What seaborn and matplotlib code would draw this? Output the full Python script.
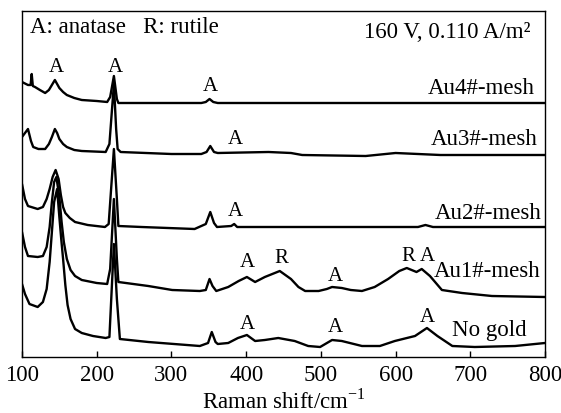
import pandas as pd
import matplotlib
matplotlib.use("Agg")
import matplotlib.pyplot as plt
import seaborn as sns

# Raman spectra (wavenumber in cm-1, stacked intensity in a.u.)
au4_x = [100, 108, 111.5, 113, 114.5, 117.4, 124, 131, 136, 140, 144, 147, 150, 155, 160, 170, 180,
         200, 214, 218, 223, 227, 229, 300, 340, 346, 351, 356, 362, 800]
au4_y = [275, 272, 272, 283, 271, 270, 267, 264, 267, 272, 277, 273, 269, 265, 262, 259, 257,
         256, 255, 260, 281, 258, 254, 254, 254, 255, 258, 255, 254, 254]

au3_x = [100, 104, 108, 112, 115, 122, 131, 136, 140, 144, 147, 150, 155, 160, 170, 180, 212,
         217, 223, 226, 228, 232, 300, 340, 347, 352, 357, 362, 430, 460, 475, 560, 600, 630, 660, 800]
au3_y = [220, 224, 228, 216, 210, 208, 208, 213, 220, 228, 224, 218, 213, 210, 207, 206, 205,
         213, 273, 228, 208, 205, 203, 203, 205, 211, 205, 204, 205, 204, 202, 201, 204, 203, 202, 202]

au2_x = [100, 104, 108, 121, 128, 133, 137, 141, 145, 149, 152, 155, 158, 164, 171, 188, 211,
         216, 223, 227, 229, 260, 331, 346, 352, 357, 361, 380, 384, 388, 630, 640, 650, 800]
au2_y = [173, 158, 151, 148, 150, 158, 168, 180, 187, 178, 162, 150, 144, 139, 135, 132, 130,
         133, 208, 158, 131, 130, 128, 133, 145, 134, 130, 131, 133, 130, 130, 132, 130, 130]

au1_x = [100, 104, 108, 121, 128, 133, 137, 140, 143, 146, 150, 153, 156, 160, 165, 171, 180,
         200, 214, 218, 223, 227, 229, 269, 301, 338, 346, 351, 355, 360, 376, 390, 401, 412,
         425, 445, 460, 470, 479, 497, 508, 515, 528, 540, 555, 572, 590, 605, 615, 628, 635,
         646, 662, 689, 729, 800]
au1_y = [125, 110, 101, 100, 101, 110, 130, 155, 175, 180, 160, 135, 115, 98, 87, 81, 77,
         74, 73, 88, 158, 98, 75, 71, 67, 66, 67, 78, 71, 66, 70, 76, 80, 75,
         80, 86, 78, 70, 66, 66, 68, 70, 69, 67, 66, 70, 78, 86, 89, 85, 88,
         81, 67, 64, 61, 60]

nogold_x = [100, 104, 110, 121, 128, 133, 137, 140, 143, 147, 150, 152.5, 155, 158, 161, 165,
            171, 180, 195, 212, 217, 223, 227, 231, 269, 338, 349, 354, 359, 362, 376, 389, 401,
            412, 425, 443, 465, 483, 499, 515, 528, 555, 579, 599, 626, 642, 656, 676, 706, 760, 800]
nogold_y = [73, 63, 53, 50, 55, 68, 95, 125, 155, 168, 140, 118, 98, 72, 52, 38,
            28, 24, 21, 19, 20, 113, 58, 18, 15, 11, 14, 25, 15, 13, 14, 19, 22,
            16, 17, 19, 16, 11, 10, 17, 16, 11, 11, 16, 21, 29, 21, 11, 10, 11, 14]

sample_names = ["Au4#-mesh", "Au3#-mesh", "Au2#-mesh", "Au1#-mesh", "No gold"]
sample_label_x = [786.7, 790.7, 796, 793.4, 776]
sample_label_y = [269, 218, 144, 86, 27]

peak_letters = ["A", "A", "A", "A", "A", "A", "R", "A", "R", "A", "A", "A", "A"]
peak_letter_x = [145.5, 224.5, 351.7, 385.1, 385.1, 401.2, 446.7, 519, 616.7, 642.1, 401.2, 519, 642.1]
peak_letter_y = [290, 290, 271, 218, 146, 95, 99, 81, 101, 101, 33, 30, 40]

xticks = [100, 200, 300, 400, 500, 600, 700, 800]

series = [(au4_x, au4_y), (au3_x, au3_y), (au2_x, au2_y), (au1_x, au1_y), (nogold_x, nogold_y)]
frames = []
for name, (xs, ys) in zip(sample_names, series):
    frames.append(pd.DataFrame({"shift": xs, "intensity": ys, "sample": name}))
df = pd.concat(frames, ignore_index=True)

sns.set_theme(style="ticks")
plt.rcParams["font.family"] = ["Liberation Serif", "DejaVu Serif"]
plt.rcParams["mathtext.fontset"] = "custom"
plt.rcParams["mathtext.rm"] = "Liberation Serif"

fig = plt.figure(figsize=(5.61, 4.14), dpi=100)
ax = fig.add_axes([22 / 561, 1 - 358 / 414, 523 / 561, 346 / 414])

sns.lineplot(data=df, x="shift", y="intensity", units="sample", estimator=None, sort=False,
             color="black", linewidth=1.7, ax=ax, legend=False)

for name, lx, ly in zip(sample_names, sample_label_x, sample_label_y):
    ax.text(lx, ly, name, ha="right", va="center", fontsize=16.5, color="black")

for letter, lx, ly in zip(peak_letters, peak_letter_x, peak_letter_y):
    ax.text(lx, ly, letter, ha="center", va="center", fontsize=15, color="black")

ax.text(110.7, 330, "A: anatase   R: rutile", ha="left", va="center", fontsize=16.5, color="black")
ax.text(780, 325, "160 V, 0.110 A/m\u00b2", ha="right", va="center", fontsize=16.5, color="black")

ax.set_xlim(100, 800)
ax.set_ylim(0, 346)
ax.set_xticks(xticks)
ax.set_yticks([])
ax.tick_params(axis="x", direction="in", length=4, width=1, labelsize=16.5, pad=5, colors="black")
ax.set_xlabel("Raman shift/cm$^{\\mathregular{-1}}$", fontsize=16.5, color="black", labelpad=2)
ax.set_ylabel("")
for spine in ax.spines.values():
    spine.set_visible(True)
    spine.set_color("black")
    spine.set_linewidth(1.0)

fig.savefig("out.png", dpi=100)
